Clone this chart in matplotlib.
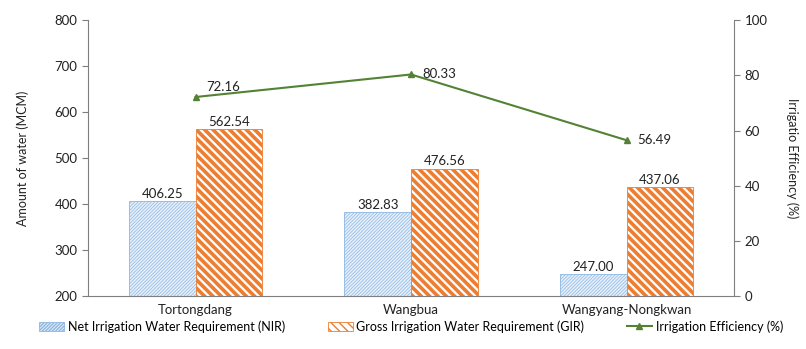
import numpy as np
import matplotlib
matplotlib.use("Agg")
import matplotlib.pyplot as plt

plt.rcParams['font.family'] = ['Lato', 'DejaVu Sans']

# data
sites = ["Tortongdang", "Wangbua", "Wangyang-Nongkwan"]
nir = [406.25, 382.83, 247.00]
gir = [562.54, 476.56, 437.06]
efficiency = [72.16, 80.33, 56.49]

x = np.arange(len(sites))
w = 0.31

fig = plt.figure(figsize=(8.06, 3.49), dpi=100)
ax = fig.add_axes([0.109, 0.152, 0.802, 0.79])
ax2 = ax.twinx()

b1 = ax.bar(x - w / 2, [v - 200 for v in nir], w, bottom=200, facecolor="#e6eff9",
            edgecolor="#8db6e2", hatch="//////////", linewidth=0.6,
            label="Net Irrigation Water Requirement (NIR)")
b2 = ax.bar(x + w / 2, [v - 200 for v in gir], w, bottom=200, facecolor="white",
            edgecolor="#ed7d31", hatch="\\\\\\\\", linewidth=0.6,
            label="Gross Irrigation Water Requirement (GIR)")
for p in b1:
    try:
        p.set_hatch_linewidth(0.5)
    except AttributeError:
        pass
for p in b2:
    try:
        p.set_hatch_linewidth(2.6)
    except AttributeError:
        pass

for xi, v in zip(x, nir):
    ax.text(xi - w / 2, v + 3, f"{v:.2f}", ha="center", va="bottom", fontsize=9.5, color="#222222")
for xi, v in zip(x, gir):
    ax.text(xi + w / 2, v + 3, f"{v:.2f}", ha="center", va="bottom", fontsize=9.5, color="#222222")

line, = ax2.plot(x, efficiency, color="#548235", linewidth=1.5, marker="^", markersize=5,
                 label="Irrigation Efficiency (%)")
label_dy = [7, 0, 0]
for xi, v, dy in zip(x, efficiency, label_dy):
    ax2.annotate(f"{v:.2f}", (xi, v), xytext=(8, dy), textcoords="offset points",
                 ha="left", va="center", fontsize=9.5, color="#222222")

ax.set_xlim(-0.5, 2.5)
ax.set_ylim(200, 800)
ax2.set_ylim(0, 100)
ax.set_yticks(range(200, 801, 100))
ax2.set_yticks(range(0, 101, 20))
ax.set_xticks(x)
ax.set_xticklabels(sites)

for a in (ax, ax2):
    a.spines["top"].set_visible(False)
    for s in a.spines.values():
        s.set_color("#7f7f7f")
    a.tick_params(colors="#7f7f7f", labelcolor="#222222", labelsize=9.5, length=4)
ax.spines["right"].set_visible(False)
ax2.spines["left"].set_visible(False)
ax2.spines["bottom"].set_visible(False)
ax.tick_params(axis="x", length=0, pad=6)

ax.set_ylabel("Amount of water (MCM)", fontsize=9, color="#222222", labelpad=18)
ax2.set_ylabel("Irrigatio Efficiency (%)", fontsize=9, color="#222222", rotation=270, labelpad=22)

fig.legend(handles=[b1, b2, line], loc="lower center", bbox_to_anchor=(0.51, 0.015), ncol=3,
           frameon=False, fontsize=9, handlelength=2.0, handletextpad=0.3, columnspacing=3.4)

fig.savefig("out.png", dpi=100)
